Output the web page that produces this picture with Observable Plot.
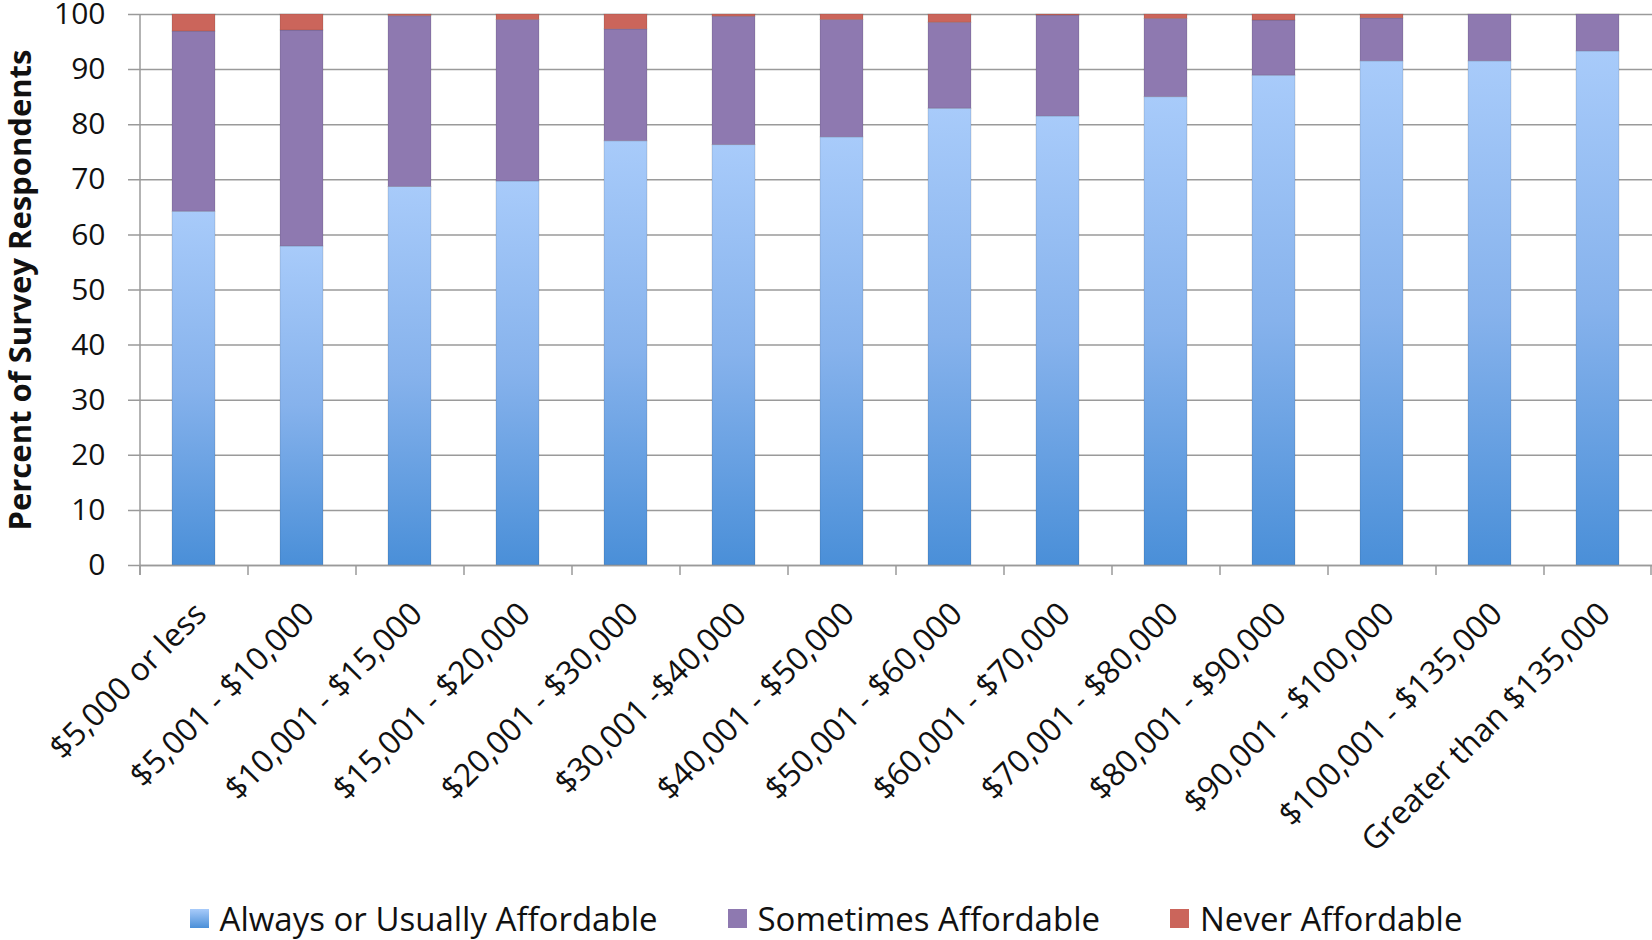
<!DOCTYPE html>
<html><head><meta charset="utf-8">
<script src="https://cdn.jsdelivr.net/npm/d3@7"></script>
<script src="https://cdn.jsdelivr.net/npm/@observablehq/plot@0.6"></script>
<style>
html,body{margin:0;padding:0;background:#fff;overflow:hidden;width:1652px;height:940px;}
body{font-family:"Open Sans",sans-serif;position:relative;}
#chart svg{display:block;max-width:none !important;}
#legend{position:absolute;left:0;top:894px;width:1652px;height:48px;display:flex;justify-content:center;align-items:center;font-size:33px;line-height:1;color:#111;font-family:"Open Sans",sans-serif;white-space:nowrap;}
.item{display:flex;align-items:center;margin:0 35px;}
.sw{width:19px;height:19px;margin-right:11px;}
</style></head><body><div id="chart"></div><div id="legend"></div>
<script>
const categories = ["$5,000 or less","$5,001 - $10,000","$10,001 - $15,000","$15,001 - $20,000","$20,001 - $30,000","$30,001 -$40,000","$40,001 - $50,000","$50,001 - $60,000","$60,001 - $70,000","$70,001 - $80,000","$80,001 - $90,000","$90,001 - $100,000","$100,001 - $135,000","Greater than $135,000"];
const seriesNames = ["Always or Usually Affordable","Sometimes Affordable","Never Affordable"];
const always    = [64.2, 57.9, 68.7, 69.7, 77.0, 76.3, 77.7, 82.9, 81.5, 85.0, 88.9, 91.5, 91.5, 93.3];
const sometimes = [32.7, 39.2, 31.0, 29.3, 20.3, 23.3, 21.3, 15.6, 18.3, 14.2, 10.0, 7.8, 8.5, 6.7];
const never     = [3.1, 2.9, 0.3, 1.0, 2.7, 0.4, 1.0, 1.5, 0.2, 0.8, 1.1, 0.7, 0.0, 0.0];
const yTicks = [0,10,20,30,40,50,60,70,80,90,100];
const yLabel = "Percent of Survey Respondents";
const seriesFills = ["url(#gBlue)","#8e79b0","#cb655b"];

const table = [];
[always, sometimes, never].forEach((vals, s) => {
  categories.forEach((c, i) => table.push({category: c, series: seriesNames[s], value: vals[i]}));
});

const W = 1652, H = 890;
const gridColor = "#9a9a9a";
const chart = Plot.plot({
  width: W, height: H,
  marginLeft: 140, marginRight: 0, marginTop: 14, marginBottom: 325,
  style: {fontFamily: "Open Sans, sans-serif", background: "#fff", overflow: "visible"},
  x: {domain: categories, paddingInner: 0.6, paddingOuter: 0.3, axis: null},
  y: {domain: [0, 100], axis: null},
  color: {domain: seriesNames, range: seriesFills},
  marks: [
    Plot.ruleY(yTicks, {y: d => d, stroke: gridColor, strokeWidth: 1.5, insetLeft: -12}),
    Plot.barY(table, {x: "category", y: "value", fill: "series", stroke: "rgba(0,0,0,0.12)", strokeWidth: 1}),
    Plot.ruleX([categories[0]], {x: d => d, dx: -54, insetBottom: -10, stroke: gridColor, strokeWidth: 1.5}),
    Plot.ruleX(categories, {x: d => d, dx: -54, y1: d => 0, y2: d => 0, insetBottom: -10, stroke: gridColor, strokeWidth: 1.5}),
    Plot.ruleX([categories[categories.length-1]], {x: d => d, dx: 53, y1: d => 0, y2: d => 0, insetBottom: -10, stroke: gridColor, strokeWidth: 1.5}),
    Plot.ruleY([0], {y: d => d, stroke: gridColor, strokeWidth: 1.5}),
    Plot.axisY({ticks: yTicks, tickSize: 0, tickPadding: 35, fontSize: 30, label: null, tickFormat: d => d, color: "#111"}),
    Plot.text(categories, {x: d => d, y: d => 0, text: d => d, rotate: -45, textAnchor: "end", dx: 7, dy: 43, fontSize: 32, fill: "#111"}),
    Plot.text([yLabel], {text: d => d, frameAnchor: "left", textAnchor: "middle", rotate: -90, dx: -119, fontSize: 31, fontWeight: "bold", fill: "#111"})
  ]
});
document.getElementById("chart").appendChild(chart);

// gradient definition for the blue series
const svgNS = "http://www.w3.org/2000/svg";
const defs = document.createElementNS(svgNS, "defs");
defs.innerHTML = '<linearGradient id="gBlue" x1="0" y1="0" x2="0" y2="1"><stop offset="0" stop-color="#a8cbfa"/><stop offset="0.5" stop-color="#86b2ec"/><stop offset="1" stop-color="#4a8fd8"/></linearGradient>';
chart.insertBefore(defs, chart.firstChild);

// legend
const legend = document.getElementById("legend");
const swatchCss = ["linear-gradient(#a8cbfa,#4a8fd8)", "#8e79b0", "#cb655b"];
seriesNames.forEach((n, i) => {
  const it = document.createElement("div"); it.className = "item";
  const sw = document.createElement("div"); sw.className = "sw"; sw.style.background = swatchCss[i];
  const t = document.createElement("span"); t.textContent = n;
  it.appendChild(sw); it.appendChild(t); legend.appendChild(it);
});
</script></body></html>
